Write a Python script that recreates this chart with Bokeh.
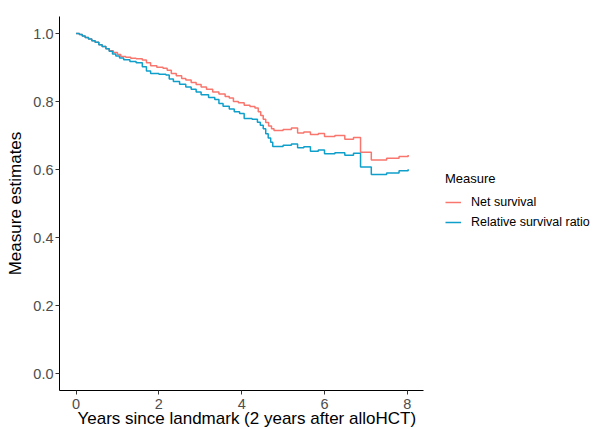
from bokeh.plotting import figure
from bokeh.models import Legend, LegendItem, FixedTicker, NumeralTickFormatter, Range1d, Title
from bokeh.embed import file_html
from bokeh.resources import INLINE

# Net survival (step function)
net_t = [0, 0.08, 0.15, 0.22, 0.3, 0.38, 0.46, 0.55, 0.63, 0.72, 0.8, 0.9, 1.0, 1.08,
         1.2, 1.32, 1.45, 1.6, 1.7, 1.8, 1.95, 2.1, 2.2, 2.3, 2.42, 2.55, 2.65, 2.78,
         2.9, 3.02, 3.15, 3.3, 3.45, 3.6, 3.7, 3.8, 3.92, 4.06, 4.2, 4.32, 4.4, 4.46,
         4.52, 4.58, 4.65, 4.72, 4.78, 5.0, 5.2, 5.35, 5.5, 5.66, 5.85, 6.0, 6.25,
         6.49, 6.7, 6.87, 7.13, 7.5, 7.8, 8.02]
net_v = [1.0, 0.997, 0.993, 0.988, 0.984, 0.979, 0.974, 0.967, 0.962, 0.955, 0.949,
         0.944, 0.938, 0.932, 0.930, 0.927, 0.926, 0.922, 0.914, 0.905, 0.901, 0.898,
         0.892, 0.882, 0.876, 0.868, 0.863, 0.856, 0.850, 0.843, 0.836, 0.828, 0.822,
         0.815, 0.810, 0.800, 0.796, 0.789, 0.785, 0.781, 0.770, 0.759, 0.748, 0.738,
         0.728, 0.720, 0.715, 0.718, 0.722, 0.707, 0.710, 0.703, 0.706, 0.697, 0.700,
         0.689, 0.694, 0.651, 0.628, 0.633, 0.638, 0.643]

# Relative survival ratio (step function)
rsr_t = [0, 0.08, 0.15, 0.22, 0.3, 0.38, 0.46, 0.55, 0.63, 0.72, 0.8, 0.88, 0.96, 1.05,
         1.15, 1.3, 1.45, 1.6, 1.7, 1.8, 2.0, 2.17, 2.25, 2.35, 2.5, 2.65, 2.78, 2.9,
         3.02, 3.2, 3.35, 3.45, 3.55, 3.7, 3.82, 3.95, 4.06, 4.25, 4.38, 4.45, 4.52,
         4.58, 4.64, 4.7, 4.75, 5.0, 5.2, 5.35, 5.5, 5.66, 5.85, 6.0, 6.25, 6.49, 6.7,
         6.87, 7.13, 7.5, 7.8, 8.02]
rsr_v = [1.0, 0.997, 0.993, 0.988, 0.984, 0.979, 0.974, 0.967, 0.962, 0.955, 0.948,
         0.940, 0.934, 0.928, 0.923, 0.918, 0.914, 0.902, 0.890, 0.882, 0.880, 0.878,
         0.866, 0.859, 0.851, 0.843, 0.836, 0.828, 0.820, 0.812, 0.806, 0.794, 0.786,
         0.778, 0.770, 0.765, 0.750, 0.748, 0.739, 0.730, 0.720, 0.705, 0.693, 0.680,
         0.668, 0.671, 0.675, 0.664, 0.667, 0.654, 0.657, 0.646, 0.649, 0.642, 0.648,
         0.607, 0.585, 0.590, 0.596, 0.601]

x_ticks = [0, 2, 4, 6, 8]
y_ticks = [0.0, 0.2, 0.4, 0.6, 0.8, 1.0]
series_names = ["Net survival", "Relative survival ratio"]
colors = ["#F8766D", "#0F9FCB"]
x_title = "Years since landmark (2 years after alloHCT)"
y_title = "Measure estimates"

# frame spans to the right edge so the legend can sit beside the data area;
# the visible x axis is limited to the data panel via axis bounds
p = figure(width=594, height=429, output_backend="svg", toolbar_location=None,
           x_range=Range1d(-0.4, 12.52), y_range=Range1d(-0.05, 1.05),
           min_border_left=59, min_border_right=0, min_border_top=16,
           min_border_bottom=39)

r1 = p.step(net_t, net_v, mode="after", line_color=colors[0], line_width=1.5)
r2 = p.step(rsr_t, rsr_v, mode="after", line_color=colors[1], line_width=1.5)

p.grid.visible = False
p.outline_line_color = None
p.background_fill_color = "white"
p.border_fill_color = "white"

for ax in (p.xaxis[0], p.yaxis[0]):
    ax.axis_line_color = "black"
    ax.axis_line_width = 1
    ax.major_tick_line_color = "#333333"
    ax.major_tick_in = 0
    ax.major_tick_out = 4
    ax.minor_tick_line_color = None
    ax.major_label_text_color = "#4D4D4D"
    ax.major_label_text_font = "Liberation Sans"
    ax.major_label_text_font_size = "14.5px"
    ax.axis_label_text_font = "Liberation Sans"
    ax.axis_label_text_font_size = "17px"
    ax.axis_label_text_font_style = "normal"
    ax.axis_label_text_color = "black"

p.xaxis[0].bounds = (-0.4, 8.4)
p.xaxis[0].ticker = FixedTicker(ticks=x_ticks)
p.yaxis[0].ticker = FixedTicker(ticks=y_ticks)
p.yaxis[0].formatter = NumeralTickFormatter(format="0.0")
p.yaxis[0].axis_label = y_title
p.xaxis[0].major_label_standoff = 4
p.yaxis[0].major_label_standoff = 2
p.yaxis[0].axis_label_standoff = 5

# x-axis title centred under the data panel (not the full frame)
xt = Title(text=x_title, align="left", offset=18, standoff=-10,
           text_font="Liberation Sans", text_font_size="17px",
           text_font_style="normal", text_color="black")
p.add_layout(xt, "below")

legend = Legend(items=[LegendItem(label=series_names[0], renderers=[r1]),
                       LegendItem(label=series_names[1], renderers=[r2])],
                location=(386, 158), title="Measure",
                title_text_font="Liberation Sans", title_text_font_size="13px",
                title_text_font_style="normal", title_text_color="black",
                title_standoff=6,
                label_text_font="Liberation Sans", label_text_font_size="12.5px",
                label_text_color="black",
                glyph_width=16, glyph_height=20, label_standoff=10, spacing=0,
                padding=0, margin=0, border_line_color=None,
                background_fill_alpha=0)
p.add_layout(legend)

open("out.html", "w").write(file_html(p, INLINE))
